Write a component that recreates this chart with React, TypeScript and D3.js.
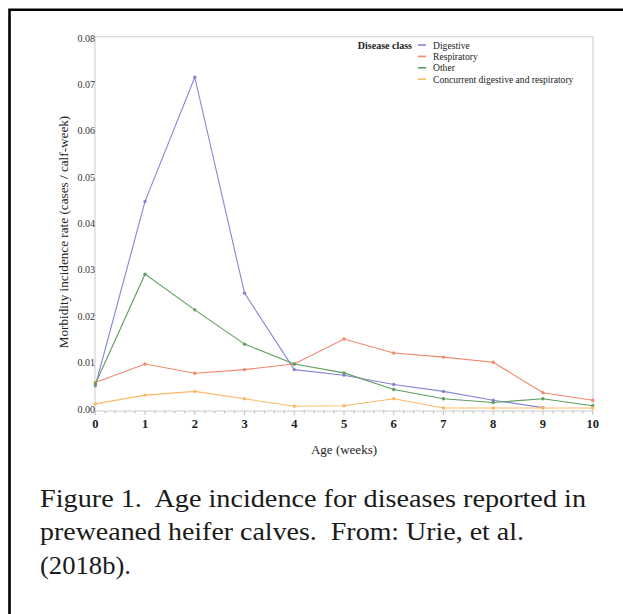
import React from "react";
import * as d3 from "d3";

// weeks of age on the x axis
const weeks = [0, 1, 2, 3, 4, 5, 6, 7, 8, 9, 10];
const yTicks = [0, 0.01, 0.02, 0.03, 0.04, 0.05, 0.06, 0.07, 0.08];

// incidence rates (cases / calf-week)
const digestive = [0.005, 0.0448, 0.0716, 0.025, 0.0085, 0.0073, 0.0053, 0.0038, 0.0019, 0.0003];
const respiratory = [0.0057, 0.0097, 0.0077, 0.0085, 0.0097, 0.0151, 0.0121, 0.0112, 0.0101, 0.0035, 0.0019];
const other = [0.0054, 0.0291, 0.0214, 0.014, 0.0097, 0.0078, 0.0042, 0.0022, 0.0014, 0.0022, 0.0007];
const concurrent = [0.0011, 0.003, 0.0038, 0.0022, 0.0006, 0.0007, 0.0022, 0.0002, 0.0002, 0.0002, 0.0002];

const seriesNames = ["Digestive", "Respiratory", "Other", "Concurrent digestive and respiratory"];
const seriesValues = [digestive, respiratory, other, concurrent];
const colors = ["#8585d6", "#f2876b", "#5f9d5f", "#fdb865"];

const captionLines = [
  "Figure 1.  Age incidence for diseases reported in",
  "preweaned heifer calves.  From: Urie, et al.",
  "(2018b).",
];
const captionWidths = [546, 484, 91];

const frame = { left: 95, right: 593, top: 36.7, bottom: 411 };
const serif = "'Liberation Serif', 'Times New Roman', serif";

export default function App() {
  const x = d3.scaleLinear().domain([0, 10]).range([95.3, 592.7]);
  const y = d3.scaleLinear().domain([0, 0.08]).range([409, 38.3]);

  const line = d3
    .line<number>()
    .x((d, i) => x(weeks[i]))
    .y(d => y(d));

  // minor ticks every 0.2 week
  const minorTicks = d3.range(0, 50).map(i => i / 5).filter(v => v % 1 !== 0);

  return (
    <svg
      width={623}
      height={614}
      style={{ position: "absolute", left: 0, top: 0, background: "#fff" }}
    >
      {/* outer box */}
      <path d="M9.5,640 L9.5,9.8 L640,9.8" fill="none" stroke="#000" strokeWidth={2.6} />

      {/* plot frame */}
      <rect
        x={frame.left}
        y={frame.top}
        width={frame.right - frame.left}
        height={frame.bottom - frame.top}
        fill="none"
        stroke="#d4d4d4"
        strokeWidth={1.2}
      />

      {/* x ticks */}
      <g stroke="#bdbdbd" strokeWidth={1}>
        {weeks.map(w => (
          <line key={"M" + w} x1={x(w)} x2={x(w)} y1={frame.bottom} y2={frame.bottom + 4} />
        ))}
        {minorTicks.map(w => (
          <line key={"m" + w} x1={x(w)} x2={x(w)} y1={frame.bottom} y2={frame.bottom + 2.5} />
        ))}
      </g>
      <g fontFamily={serif} fontSize={12.5} fontWeight="bold" fill="#222" textAnchor="middle">
        {weeks.map(w => (
          <text key={w} x={x(w)} y={427.5}>
            {w}
          </text>
        ))}
      </g>

      {/* y tick labels */}
      <g fontFamily={serif} fontSize={10} fill="#333" textAnchor="end">
        {yTicks.map(t => (
          <text key={t} x={95} y={y(t) + 3.5}>
            {t.toFixed(2)}
          </text>
        ))}
      </g>

      {/* axis titles */}
      <text
        x={344}
        y={453.5}
        fontFamily={serif}
        fontSize={13}
        fill="#222"
        textAnchor="middle"
      >
        Age (weeks)
      </text>
      <text
        transform="translate(68,232) rotate(-90)"
        fontFamily={serif}
        fontSize={13.2}
        fill="#222"
        textAnchor="middle"
      >
        Morbidity incidence rate (cases / calf-week)
      </text>

      {/* series */}
      {seriesValues.map((vals, s) => (
        <g key={s}>
          <path d={line(vals) || ""} fill="none" stroke={colors[s]} strokeWidth={1.1} />
          {vals.map((v, i) => (
            <circle key={i} cx={x(weeks[i])} cy={y(v)} r={1.7} fill={colors[s]} />
          ))}
        </g>
      ))}

      {/* legend */}
      <text x={412} y={48.5} fontFamily={serif} fontSize={10} fontWeight="bold" fill="#222" textAnchor="end">
        Disease class
      </text>
      {seriesNames.map((name, i) => (
        <g key={name} transform={`translate(0,${45 + i * 11.4})`}>
          <line x1={418} x2={426} y1={0} y2={0} stroke={colors[i]} strokeWidth={1.6} />
          <text x={433} y={3.5} fontFamily={serif} fontSize={9.6} fill="#222">
            {name}
          </text>
        </g>
      ))}

      {/* caption */}
      <g fontFamily={serif} fontSize={25.5} fill="#1a1a1a">
        {captionLines.map((t, i) => (
          <text
            key={i}
            x={40}
            y={506.5 + i * 33.5}
            textLength={captionWidths[i]}
            lengthAdjust="spacingAndGlyphs"
            style={{ whiteSpace: "pre" }}
          >
            {t}
          </text>
        ))}
      </g>
    </svg>
  );
}
